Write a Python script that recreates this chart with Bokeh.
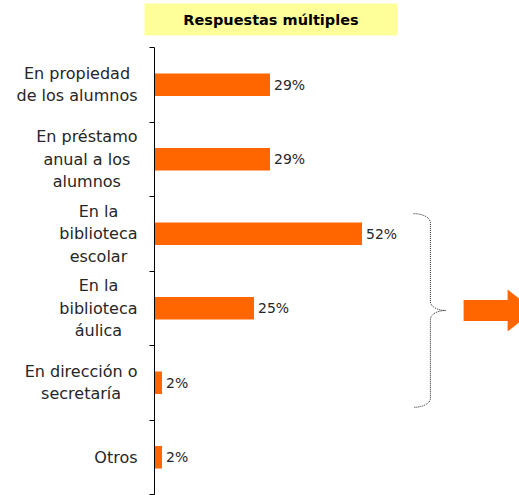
import numpy as np
from bokeh.plotting import figure
from bokeh.models import Range1d, FixedTicker, ColumnDataSource
from bokeh.core.properties import value
from bokeh.embed import file_html
from bokeh.resources import INLINE

# ---- data ----
categories = ["En propiedad\nde los alumnos",
              "En préstamo\nanual a los\nalumnos",
              "En la\nbiblioteca\nescolar",
              "En la\nbiblioteca\náulica",
              "En dirección o\nsecretaría",
              "Otros"]
values = [29, 29, 52, 25, 2, 2]
value_labels = ["29%", "29%", "52%", "25%", "2%", "2%"]
title_text = "Respuestas múltiples"

ORANGE = "#FF6600"
TXT = "#262626"
FONT = "DejaVu Sans"

n = len(categories)
ypos = [n - i - 0.5 for i in range(n)]  # top category first

W, H = 519, 495
p = figure(width=W, height=H, output_backend="svg", toolbar_location=None,
           x_range=Range1d(-38.375, 91.375), y_range=Range1d(-0.0134, 6.631),
           x_axis_location=None, min_border=0)
p.min_border_left = 0
p.min_border_right = 0
p.min_border_top = 0
p.min_border_bottom = 0
p.outline_line_color = None
p.xgrid.visible = False
p.ygrid.visible = False
p.background_fill_color = "white"
p.border_fill_color = "white"

yax = p.yaxis[0]
yax.fixed_location = 0
yax.bounds = (0, n)
yax.ticker = FixedTicker(ticks=list(range(n + 1)))
yax.major_label_overrides = {i: "" for i in range(n + 1)}
yax.major_label_standoff = 0
yax.major_tick_out = 5
yax.major_tick_in = 0
yax.minor_tick_out = 0
yax.minor_tick_in = 0
yax.axis_line_color = "black"
yax.major_tick_line_color = "black"

src = ColumnDataSource(dict(y=ypos, v=values, lab=value_labels, cat=categories,
                            lx=[v + 1.0 for v in values],
                            cx=[-4.125] * n))

p.hbar(y="y", left=0, right="v", height=0.3, source=src,
       fill_color=ORANGE, line_color=None)

p.text(x="lx", y="y", text="lab", source=src, text_font=value(FONT),
       text_font_size="14px", text_color=TXT, text_align="left",
       text_baseline="middle")

p.text(x="cx", y="y", text="cat", source=src, text_font=value(FONT),
       text_font_size="16px", text_color=TXT, text_align="center",
       anchor="center_right", text_line_height=1.18)

# title box
p.quad(left=[-2.375], right=[60.875], bottom=[6.161], top=[6.591],
       fill_color="#FFFF99", line_color=None)
p.text(x=[29.25], y=[6.369], text=[title_text], text_font=value(FONT),
       text_font_style="bold", text_font_size="14.5px", text_color="black",
       text_align="center", text_baseline="middle")

# dotted curly brace spanning categories 3..5
top_y = ypos[2] + 0.27
bot_y = ypos[4] - 0.33
mid_y = (top_y + bot_y) / 2
x_end, x_mid, x_tip = 64.9, 69.1, 72.9
r_y = 0.12
t = np.linspace(0, np.pi / 2, 12)
seg1_x = x_end + (x_mid - x_end) * np.sin(t)
seg1_y = top_y - r_y * (1 - np.cos(t))
seg2_x = x_mid + (x_tip - x_mid) * (1 - np.cos(t))
seg2_y = (mid_y + r_y) - r_y * np.sin(t)
bx = np.concatenate([seg1_x, seg2_x, seg2_x[::-1], seg1_x[::-1]])
by = np.concatenate([seg1_y, seg2_y, 2 * mid_y - seg2_y[::-1], 2 * mid_y - seg1_y[::-1]])
p.line(bx, by, line_color="#222222", line_width=1, line_dash="1 1")

# block arrow
ax0, ax1, axt = 77.4, 88.4, 95.0
sh, hh = 0.141, 0.282
p.patch([ax0, ax1, ax1, axt, ax1, ax1, ax0],
        [mid_y + sh, mid_y + sh, mid_y + hh, mid_y, mid_y - hh, mid_y - sh, mid_y - sh],
        fill_color=ORANGE, line_color=None)

open("out.html", "w").write(file_html(p, INLINE))
